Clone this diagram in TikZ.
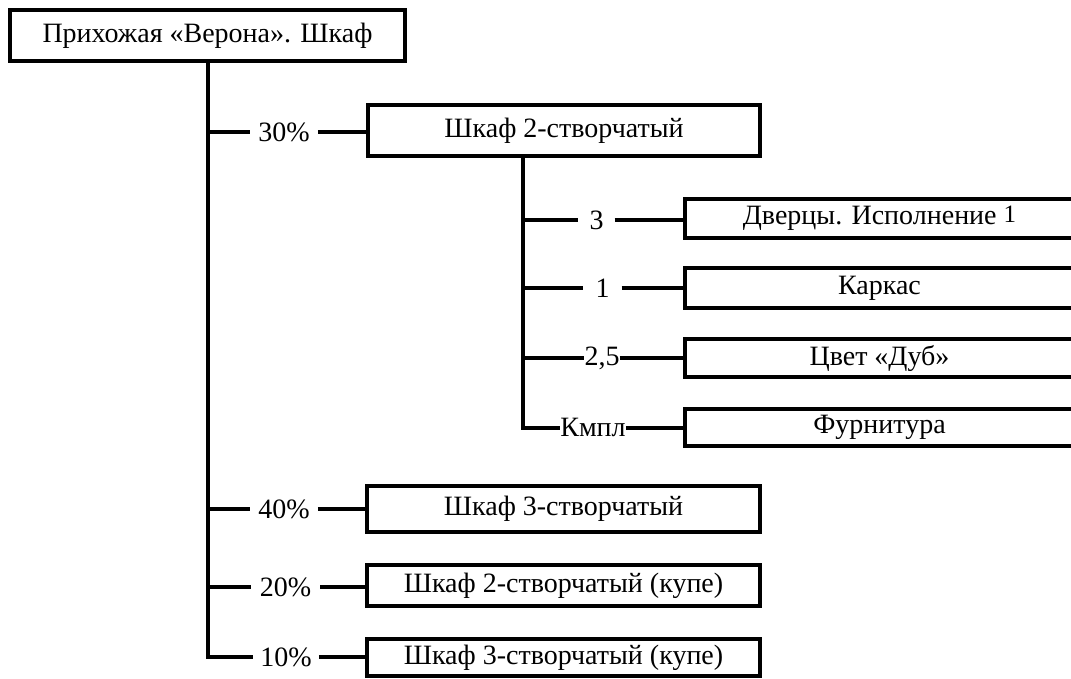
\documentclass[tikz,border=0pt]{standalone}
\usepackage{fontspec}
\setmainfont{Liberation Serif}
\begin{document}
\begin{tikzpicture}[x=1pt,y=-1pt,
  every node/.style={font=\fontsize{28}{32}\selectfont},
  box/.style={draw, line width=4pt, inner sep=0pt, anchor=center},
  lbl/.style={inner ysep=0pt, anchor=center},
  conn/.style={line width=4pt}]
\clip (0,0) rectangle (1071,679);
% top
\node[box, minimum width=395pt, minimum height=51pt] (top) at (207.5,35.5) {Прихожая «Верона». Шкаф};
% main boxes
\node[box, minimum width=392pt, minimum height=51pt] (b30) at (564,130.5) {Шкаф 2-створчатый};
\node[box, minimum width=393pt, minimum height=46pt] (b40) at (563.5,509) {Шкаф 3-створчатый};
\node[box, minimum width=393pt, minimum height=41pt] (b20) at (563.5,585.5) {Шкаф 2-створчатый (купе)};
\node[box, minimum width=393pt, minimum height=37pt] (b10) at (563.5,657.5) {Шкаф 3-створчатый (купе)};
% main labels
\node[lbl, inner xsep=8pt] (l30) at (284,132) {30\%};
\node[lbl, inner xsep=8pt] (l40) at (284,509) {40\%};
\node[lbl, inner xsep=9pt] (l20) at (285.5,587) {20\%};
\node[lbl, inner xsep=7pt] (l10) at (286,657) {10\%};
% sub boxes
\node[box, minimum width=389pt, minimum height=39pt] (k1) at (879.5,218.5) {Дверцы. Исполнение \raisebox{2pt}{\fontsize{25}{25}\selectfont 1}};
\node[box, minimum width=389pt, minimum height=40pt] (k2) at (879.5,288) {Каркас};
\node[box, minimum width=389pt, minimum height=38pt] (k3) at (879.5,358) {Цвет «Дуб»};
\node[box, minimum width=389pt, minimum height=37pt] (k4) at (879.5,427.5) {Фурнитура};
% sub labels
\node[lbl, inner xsep=11pt] (m1) at (596.5,220) {3};
\node[lbl, inner xsep=12pt] (m2) at (602.5,288) {1};
\node[lbl, inner xsep=0pt] (m3) at (602,358) {2,5};
\node[lbl, inner xsep=0pt] (m4) at (593,427.5) {Кмпл};
% trunk
\coordinate (j30) at (top.south |- l30);
\coordinate (j40) at (top.south |- l40);
\coordinate (j20) at (top.south |- l20);
\draw[conn] (top.south) |- (l10.west);
\draw[conn] (j30) -- (l30.west);
\draw[conn] (j40) -- (l40.west);
\draw[conn] (j20) -- (l20.west);
\draw[conn] (l30.east) -- (b30.west |- l30);
\draw[conn] (l40.east) -- (b40.west);
\draw[conn] (l20.east) -- (b20.west |- l20);
\draw[conn] (l10.east) -- (b10.west |- l10);
% sub trunk
\coordinate (s0) at (523,156);
\coordinate (s1) at (s0 |- m1);
\coordinate (s2) at (s0 |- m2);
\coordinate (s3) at (s0 |- m3);
\draw[conn] (s0) |- (m4.west);
\draw[conn] (s1) -- (m1.west);
\draw[conn] (s2) -- (m2.west);
\draw[conn] (s3) -- (m3.west);
\draw[conn] (m1.east) -- (k1.west |- m1);
\draw[conn] (m2.east) -- (k2.west);
\draw[conn] (m3.east) -- (k3.west);
\draw[conn] (m4.east) -- (k4.west);
\end{tikzpicture}
\end{document}
